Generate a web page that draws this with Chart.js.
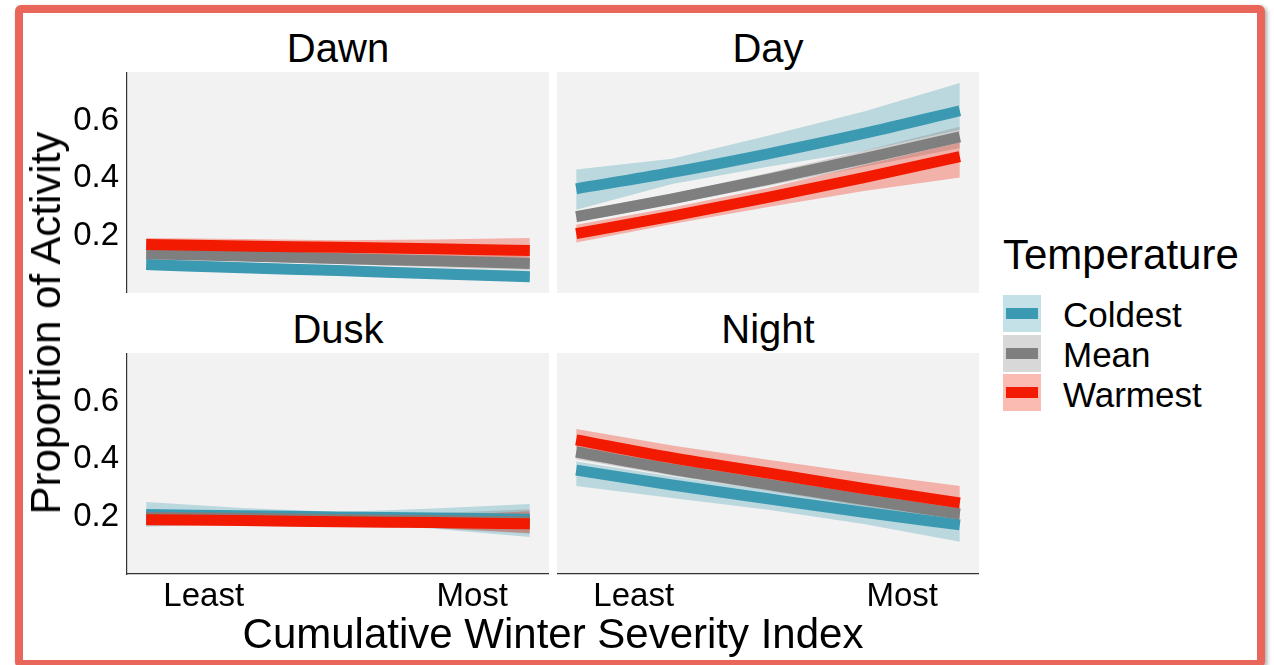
<!DOCTYPE html>
<html>
<head>
<meta charset="utf-8">
<script src="https://cdn.jsdelivr.net/npm/chart.js@4.4.1/dist/chart.umd.min.js"></script>
<style>
  html, body { margin: 0; padding: 0; background: #fff; width: 1274px; height: 665px; overflow: hidden; }
  body { position: relative; font-family: "Liberation Sans", Arial, sans-serif; color: #000; }
  .frame { position: absolute; left: 15px; top: 5px; width: 1250px; height: 663px; box-sizing: border-box;
           border: 8px solid #E9665A; border-radius: 6px; box-shadow: 2px 2px 4px rgba(0,0,0,0.35); }
  canvas { position: absolute; }
  .txt { position: absolute; white-space: nowrap; line-height: 1; }
  .c { transform: translate(-50%, -50%); }
  .strip { font-size: 40px; }
  .axis-title { font-size: 42px; }
  .ytitle { transform: translate(-50%, -50%) rotate(-90deg); }
  .leg-title { font-size: 42px; transform: translateY(-50%); }
  .leg-label { font-size: 35px; transform: translateY(-50%); }
  .key { position: absolute; left: 1003px; width: 38px; height: 37px; }
  .key span { position: absolute; left: 3px; top: 13px; width: 32px; height: 11px; }
</style>
</head>
<body>
<div class="frame"></div>

<canvas id="dawn" width="489" height="221" style="left:60px; top:72px;"></canvas>
<canvas id="day" width="422" height="221" style="left:557px; top:72px;"></canvas>
<canvas id="dusk" width="489" height="271" style="left:60px; top:353px;"></canvas>
<canvas id="night" width="422" height="271" style="left:557px; top:353px;"></canvas>

<div class="txt c strip" style="left:338px; top:48px;">Dawn</div>
<div class="txt c strip" style="left:768px; top:48px;">Day</div>
<div class="txt c strip" style="left:338px; top:329px;">Dusk</div>
<div class="txt c strip" style="left:768px; top:329px;">Night</div>

<div class="txt c axis-title" style="left:553px; top:634px;">Cumulative Winter Severity Index</div>
<div class="txt axis-title ytitle" style="left:46px; top:323px;">Proportion of Activity</div>

<div class="txt leg-title" style="left:1003px; top:255px;">Temperature</div>
<div class="key" style="top:295px; background:rgba(59,154,178,0.3);"><span style="background:#3B9AB2;"></span></div>
<div class="key" style="top:335px; background:rgba(127,127,127,0.3);"><span style="background:#7F7F7F;"></span></div>
<div class="key" style="top:374px; background:rgba(242,26,0,0.3);"><span style="background:#F21A00;"></span></div>
<div class="txt leg-label" style="left:1063px; top:314px;">Coldest</div>
<div class="txt leg-label" style="left:1063px; top:354px;">Mean</div>
<div class="txt leg-label" style="left:1063px; top:394px;">Warmest</div>

<script>
// severity index positions (0 = least, 1 = most) where the fits are sampled
const xPoints = [0, 0.25, 0.5, 0.75, 1];
const groups = ['Coldest', 'Mean', 'Warmest'];
const xTicks = [0.15, 0.85];
const xTickLabels = ['Least', 'Most'];
const yTicks = [0.2, 0.4, 0.6];

// fitted proportion, rows: Coldest, Mean, Warmest
const dawnFit = [
  [0.099, 0.088, 0.078, 0.067, 0.057],
  [0.137, 0.129, 0.120, 0.112, 0.103],
  [0.169, 0.164, 0.159, 0.154, 0.148]
];
const dawnLo = [
  [0.080, 0.071, 0.061, 0.050, 0.040],
  [0.120, 0.111, 0.101, 0.090, 0.080],
  [0.146, 0.140, 0.132, 0.120, 0.105]
];
const dawnHi = [
  [0.120, 0.107, 0.096, 0.086, 0.078],
  [0.155, 0.147, 0.139, 0.133, 0.128],
  [0.192, 0.188, 0.184, 0.186, 0.192]
];

const dayFit = [
  [0.363, 0.420, 0.485, 0.556, 0.635],
  [0.266, 0.328, 0.396, 0.468, 0.544],
  [0.207, 0.268, 0.333, 0.402, 0.475]
];
const dayLo = [
  [0.290, 0.380, 0.440, 0.495, 0.569],
  [0.246, 0.310, 0.374, 0.440, 0.505],
  [0.176, 0.240, 0.300, 0.355, 0.402]
];
const dayHi = [
  [0.430, 0.468, 0.548, 0.632, 0.732],
  [0.286, 0.346, 0.418, 0.496, 0.579],
  [0.238, 0.298, 0.366, 0.446, 0.524]
];

const duskFit = [
  [0.207, 0.203, 0.199, 0.195, 0.191],
  [0.198, 0.194, 0.190, 0.186, 0.182],
  [0.189, 0.186, 0.182, 0.179, 0.175]
];
const duskLo = [
  [0.165, 0.176, 0.180, 0.158, 0.129],
  [0.176, 0.178, 0.176, 0.160, 0.140],
  [0.172, 0.175, 0.172, 0.160, 0.143]
];
const duskHi = [
  [0.251, 0.230, 0.216, 0.228, 0.244],
  [0.220, 0.210, 0.204, 0.212, 0.226],
  [0.206, 0.198, 0.193, 0.203, 0.219]
];

const nightFit = [
  [0.362, 0.310, 0.262, 0.215, 0.171],
  [0.425, 0.365, 0.312, 0.259, 0.209],
  [0.467, 0.405, 0.352, 0.298, 0.248]
];
const nightLo = [
  [0.307, 0.265, 0.224, 0.174, 0.112],
  [0.400, 0.342, 0.290, 0.235, 0.180],
  [0.440, 0.380, 0.328, 0.272, 0.195]
];
const nightHi = [
  [0.392, 0.340, 0.292, 0.252, 0.225],
  [0.450, 0.388, 0.335, 0.285, 0.240],
  [0.505, 0.448, 0.398, 0.350, 0.307]
];

const lineColors = ['#3B9AB2', '#7F7F7F', '#F21A00'];
const bandColors = ['rgba(59,154,178,0.3)', 'rgba(127,127,127,0.3)', 'rgba(242,26,0,0.3)'];
const FONT = '"Liberation Sans", Arial, sans-serif';

Chart.defaults.font.family = FONT;
Chart.defaults.color = '#000';

// grey panel background behind the plotting area
const panelBg = {
  id: 'panelBg',
  beforeDraw: function (chart) {
    var a = chart.chartArea, ctx = chart.ctx;
    ctx.save();
    ctx.fillStyle = '#F2F2F2';
    ctx.fillRect(a.left, a.top, a.right - a.left, a.bottom - a.top);
    ctx.restore();
  }
};

function toPts(ys) {
  return ys.map((y, i) => ({ x: xPoints[i], y: y }));
}

function buildDatasets(fit, lo, hi) {
  var ds = [];
  // confidence bands first (drawn underneath), warmest on top
  groups.forEach(function (g, i) {
    ds.push({ label: g + ' hi', data: toPts(hi[i]), borderWidth: 0, borderColor: 'rgba(0,0,0,0)',
              pointRadius: 0, fill: '+1', backgroundColor: bandColors[i], order: 5 - i });
    ds.push({ label: g + ' lo', data: toPts(lo[i]), borderWidth: 0, borderColor: 'rgba(0,0,0,0)',
              pointRadius: 0, fill: false, order: 5 - i });
  });
  groups.forEach(function (g, i) {
    ds.push({ label: g, data: toPts(fit[i]), borderColor: lineColors[i], borderWidth: 11,
              pointRadius: 0, fill: false, cubicInterpolationMode: 'monotone', order: 2 - i });
  });
  return ds;
}

// fixed axis sizes so every panel's plotting area lands on the same grid
function fixSize(show, prop, size) {
  return function (s) {
    s[prop] = show ? size : 0;
    s.paddingTop = 0; s.paddingBottom = 0; s.paddingLeft = 0; s.paddingRight = 0;
  };
}

function makePanel(id, fit, lo, hi, showY, showX) {
  var ctx = document.getElementById(id).getContext('2d');
  return new Chart(ctx, {
    type: 'line',
    data: { datasets: buildDatasets(fit, lo, hi) },
    options: {
      responsive: false,
      animation: false,
      events: [],
      layout: { padding: 0 },
      plugins: { legend: { display: false }, tooltip: { enabled: false } },
      scales: {
        x: {
          type: 'linear', min: -0.05, max: 1.05, display: showX,
          grid: { display: false, drawTicks: false },
          border: { display: true, color: '#333', width: 1.2 },
          afterBuildTicks: function (s) { s.ticks = xTicks.map(v => ({ value: v })); },
          afterFit: fixSize(showX, 'height', 50),
          ticks: {
            autoSkip: false, maxRotation: 0, minRotation: 0, padding: 3, color: '#000',
            font: { size: 33 },
            callback: function (v, i) { return xTickLabels[i]; }
          }
        },
        y: {
          type: 'linear', min: 0, max: 0.77, display: showY,
          grid: { display: false, drawTicks: false },
          border: { display: true, color: '#333', width: 1.2 },
          afterBuildTicks: function (s) { s.ticks = yTicks.map(v => ({ value: v })); },
          afterFit: fixSize(showY, 'width', 67),
          ticks: {
            padding: 8, color: '#000',
            font: { size: 33 },
            callback: function (v) { return v.toFixed(1); }
          }
        }
      }
    },
    plugins: [panelBg]
  });
}

makePanel('dawn', dawnFit, dawnLo, dawnHi, true, false);
makePanel('day', dayFit, dayLo, dayHi, false, false);
makePanel('dusk', duskFit, duskLo, duskHi, true, true);
makePanel('night', nightFit, nightLo, nightHi, false, true);
</script>
</body>
</html>
